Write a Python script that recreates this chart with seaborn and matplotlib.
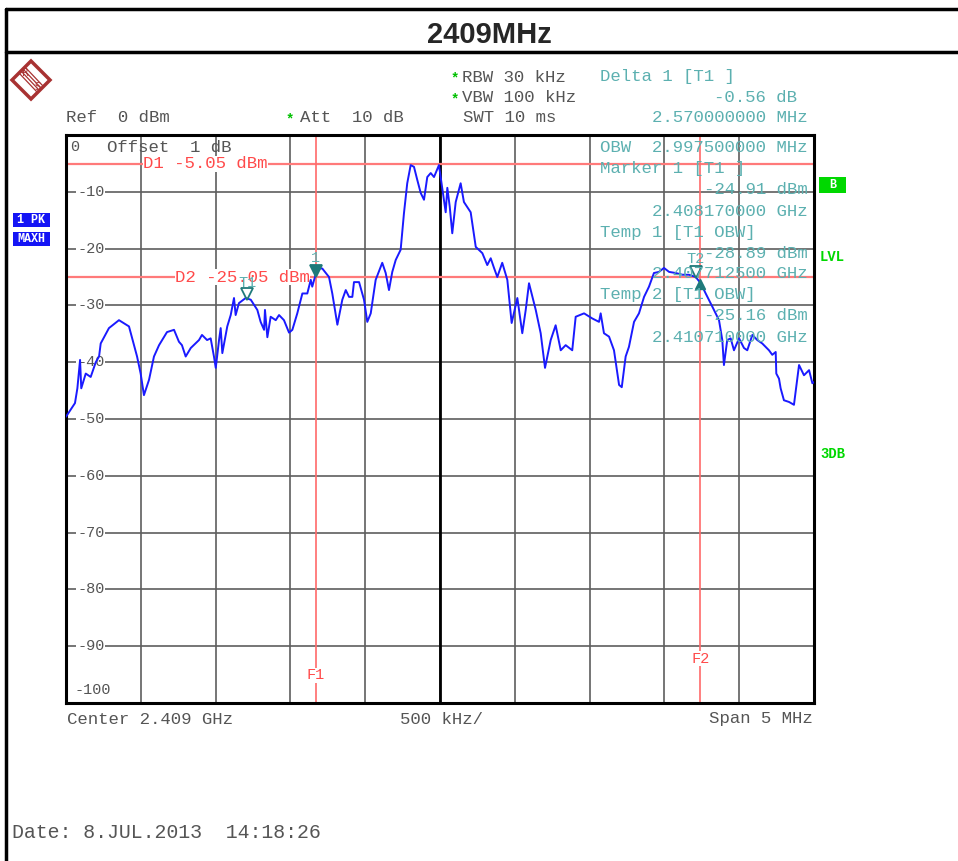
import numpy as np
import pandas as pd
import matplotlib
matplotlib.use("Agg")
import matplotlib.pyplot as plt
import matplotlib.transforms as mtransforms
from matplotlib.patches import Rectangle, Polygon
from matplotlib.lines import Line2D
import seaborn as sns

# Trace: offset from 2.409 GHz centre (MHz) and level (dBm)
freq_mhz = [-2.500, -2.440, -2.424, -2.406, -2.398, -2.368, -2.335, -2.301, -2.279, -2.268,
            -2.213, -2.146, -2.079, -2.025, -2.001, -1.979, -1.945, -1.912, -1.878, -1.825,
            -1.778, -1.745, -1.725, -1.700, -1.666, -1.611, -1.591, -1.557, -1.533, -1.511,
            -1.499, -1.477, -1.466, -1.455, -1.422, -1.399, -1.377, -1.366, -1.344, -1.299,
            -1.265, -1.221, -1.199, -1.176, -1.170, -1.154, -1.132, -1.098, -1.076, -1.043,
            -1.009, -0.987, -0.954, -0.920, -0.887, -0.864, -0.854, -0.820, -0.787, -0.742,
            -0.720, -0.686, -0.653, -0.630, -0.608, -0.586, -0.575, -0.541, -0.508, -0.486,
            -0.463, -0.430, -0.386, -0.363, -0.341, -0.319, -0.296, -0.263, -0.241, -0.219,
            -0.196, -0.174, -0.152, -0.129, -0.107, -0.085, -0.062, -0.040, -0.007,
            0.015, 0.038, 0.049, 0.065, 0.082, 0.105, 0.138, 0.160, 0.205, 0.239,
            0.283, 0.316, 0.339, 0.361, 0.383, 0.416, 0.450, 0.479, 0.517, 0.550,
            0.573, 0.595, 0.640, 0.673, 0.702, 0.740, 0.773, 0.807, 0.840, 0.884,
            0.907, 0.963, 1.018, 1.063, 1.074, 1.096, 1.130, 1.163, 1.197, 1.215,
            1.241, 1.263, 1.297, 1.330, 1.364, 1.397, 1.430, 1.464, 1.497, 1.531,
            1.576, 1.620, 1.664, 1.709, 1.743, 1.776, 1.820, 1.865, 1.887, 1.898,
            1.920, 1.943, 1.965, 1.999, 2.032, 2.054, 2.088, 2.121, 2.154, 2.199,
            2.221, 2.244, 2.248, 2.266, 2.277, 2.299, 2.333, 2.366, 2.400, 2.433,
            2.467, 2.489, 2.500]
level_dbm = [-49.6, -47.2, -44.6, -39.6, -44.6, -42.0, -42.6, -40.0, -39.0, -36.7,
             -34.0, -32.6, -33.7, -39.0, -42.0, -45.8, -43.1, -39.0, -37.0, -34.7,
             -34.3, -36.4, -37.0, -39.0, -37.5, -36.1, -35.2, -36.1, -35.8, -39.0,
             -41.0, -36.1, -34.0, -38.4, -33.7, -31.7, -28.7, -31.7, -29.6, -28.7,
             -29.0, -30.8, -32.9, -34.3, -30.8, -35.6, -32.0, -32.6, -31.7, -32.6,
             -34.8, -34.3, -31.4, -27.9, -27.9, -25.5, -26.7, -23.5, -23.5, -25.0,
             -27.9, -33.4, -29.0, -27.3, -28.5, -28.5, -25.9, -25.9, -29.0, -32.9,
             -31.4, -25.5, -22.5, -24.3, -27.3, -24.1, -22.0, -20.2, -13.8, -8.5,
             -5.3, -5.6, -7.9, -10.2, -11.4, -7.4, -6.7, -7.4, -5.3,
             -9.3, -13.6, -9.3, -12.6, -17.3, -11.8, -8.5, -11.8, -13.6, -19.7,
             -20.8, -22.9, -21.7, -23.4, -25.0, -22.5, -25.5, -33.1, -28.7, -34.9,
             -30.8, -26.1, -30.8, -34.9, -41.0, -36.1, -33.5, -37.9, -37.0, -37.9,
             -32.0, -31.4, -32.3, -32.9, -31.4, -34.9, -35.5, -37.9, -44.0, -44.4,
             -39.0, -37.3, -32.9, -31.4, -28.5, -26.7, -24.3, -24.1, -23.4, -24.1,
             -24.3, -24.6, -24.6, -25.0, -26.1, -27.9, -30.2, -32.6, -36.1, -40.5,
             -36.1, -35.8, -37.9, -35.8, -37.5, -37.9, -35.2, -36.1, -36.7, -37.9,
             -38.7, -38.2, -42.0, -42.9, -44.6, -46.7, -47.0, -47.5, -40.5, -42.3,
             -41.4, -43.7, -43.5]

# display lines, markers and grid labels
d1_level = -5.05
d2_level = -25.05
f1_mhz = -0.830
f2_mhz = 1.740
marker_names = ["1", "T1", "T2"]
marker_freq = [-0.830, -1.2875, 1.710]
marker_level = [-24.91, -28.89, -25.16]
marker_filled = [True, False, False]
delta_freq = 1.740
delta_level = -25.47
grid_levels = [-10, -20, -30, -40, -50, -60, -70, -80, -90]

header_left = [("Ref  0 dBm", 66, 118), ("Att  10 dB", 300, 118)]
header_mid = [("RBW 30 kHz", 77), ("VBW 100 kHz", 97), ("SWT 10 ms", 118)]
readout_left = [("Delta 1 [T1 ]", 77), ("Marker 1 [T1 ]", 169),
                ("Temp 1 [T1 OBW]", 232), ("Temp 2 [T1 OBW]", 295)]
readout_right = [("-0.56 dB", 97, 797), ("2.570000000 MHz", 118, 808),
                 ("OBW  2.997500000 MHz", 148, 808),
                 ("-24.91 dBm", 190, 808), ("2.408170000 GHz", 211, 808),
                 ("-28.89 dBm", 253, 808), ("2.407712500 GHz", 273, 808),
                 ("-25.16 dBm", 316, 808), ("2.410710000 GHz", 337, 808)]

df = pd.DataFrame({"freq_mhz": freq_mhz, "level_dbm": level_dbm})

sns.set_style("white")
plt.rcParams["font.family"] = ["Liberation Mono", "DejaVu Sans Mono"]

GRAY = "#555555"
TEAL = "#5cb0b0"
DTEAL = "#1f7a7a"
RED = "#ff4a4a"
GREEN = "#00d800"
BLUE = "#1a1aff"

W, H = 958, 861
fig = plt.figure(figsize=(W / 100, H / 100), dpi=100)
# pixel coords, origin top left
pix = mtransforms.Affine2D().scale(1 / W, -1 / H).translate(0, 1) + fig.transFigure

ax = fig.add_axes([66 / W, 1 - 703 / H, 748 / W, 568 / H])
ax.set_xlim(-2.5, 2.5)
ax.set_ylim(-100, 0)
ax.set_xticks(np.arange(-2.5, 2.51, 0.5))
ax.set_yticks(np.arange(-100, 1, 10))
ax.tick_params(length=0, labelbottom=False, labelleft=False)
ax.grid(True, color="#5e5e5e", lw=1.2, zorder=0)
ax.set_axisbelow(True)
ax.axvline(0, color="black", lw=2, zorder=1)
for sp in ax.spines.values():
    sp.set_color("black")
    sp.set_linewidth(2.2)

# grid level labels (under the trace)
for v in grid_levels:
    ax.text(0.015, v, f"{v}", transform=ax.get_yaxis_transform(), ha="left", va="center",
            fontsize=11, color=GRAY, zorder=1.2,
            bbox=dict(facecolor="white", edgecolor="none", pad=0.5))
ax.text(0.012, -97.7, "-100", transform=ax.get_yaxis_transform(), ha="left", va="center",
        fontsize=11, color=GRAY, zorder=1.2)

# display lines
for lv in [d1_level, d2_level]:
    ax.axhline(lv, color="#ff7a7a", lw=1.6, zorder=1.5)
for fq in [f1_mhz, f2_mhz]:
    ax.axvline(fq, color="#ff6a6a", lw=1.2, zorder=1.5)
ax.text(0.103, d1_level, f"D1 {d1_level:.2f} dBm", transform=ax.get_yaxis_transform(),
        ha="left", va="center", fontsize=12.5, color=RED, zorder=2,
        bbox=dict(facecolor="white", edgecolor="none", pad=0.2))
ax.text(0.146, d2_level, f"D2 {d2_level:.2f} dBm", transform=ax.get_yaxis_transform(),
        ha="left", va="center", fontsize=12.5, color=RED, zorder=2,
        bbox=dict(facecolor="white", edgecolor="none", pad=0.2))
ax.text(f1_mhz, 0.049, "F1", transform=ax.get_xaxis_transform(), ha="center", va="center",
        fontsize=11, color=RED, zorder=2, bbox=dict(facecolor="white", edgecolor="none", pad=0.3))
ax.text(f2_mhz, 0.078, "F2", transform=ax.get_xaxis_transform(), ha="center", va="center",
        fontsize=11, color=RED, zorder=2, bbox=dict(facecolor="white", edgecolor="none", pad=0.3))

# trace
sns.lineplot(data=df, x="freq_mhz", y="level_dbm", sort=False, estimator=None,
             color=BLUE, lw=1.4, ax=ax, zorder=3)
ax.set_xlabel("")
ax.set_ylabel("")

# markers
tri_off = mtransforms.offset_copy(ax.transData, fig=fig, y=4, units="points")
for name, fq, lv, filled in zip(marker_names, marker_freq, marker_level, marker_filled):
    ax.plot([fq], [lv], marker="v", ms=8, transform=tri_off, ls="none", zorder=4,
            mfc=DTEAL if filled else "none", mec=DTEAL, mew=1.3)
    lab_off = mtransforms.offset_copy(ax.transData, fig=fig, y=11.5 if name == "T1" else 13.5,
                                      units="points")
    ax.text(fq, lv, name, transform=lab_off, ha="center", va="center", fontsize=11,
            color=TEAL, zorder=4)
delta_off = mtransforms.offset_copy(ax.transData, fig=fig, y=-3, units="points")
ax.plot([delta_freq], [delta_level], marker="^", ms=7, transform=delta_off, ls="none",
        mfc=DTEAL, mec=DTEAL, zorder=4)

# ---- header / frame in pixel coordinates ----
for xs, ys in [([6, W], [9, 9]), ([6, W], [52, 52]), ([6, 6], [9, H])]:
    fig.add_artist(Line2D(xs, ys, transform=pix, color="black", lw=2.5))
fig.text(489, 35, "2409MHz", transform=pix, ha="center", va="center", fontsize=21,
         fontweight="bold", family="Liberation Sans")

# R&S logo
fig.add_artist(Polygon([(31, 61), (50, 80), (31, 99), (12, 80)], closed=True, transform=pix,
                       facecolor="white", edgecolor="#a83232", lw=2.5))
for k in [-3, -1, 1, 3]:
    fig.add_artist(Line2D([22 + k, 40 + k], [70 - k, 89 - k], transform=pix,
                          color="#a83232", lw=0.9))
fig.text(25, 73, "R", transform=pix, ha="center", va="center", fontsize=7,
         color="#a83232", family="DejaVu Sans")
fig.text(37, 87, "S", transform=pix, ha="center", va="center", fontsize=7,
         color="#a83232", family="DejaVu Sans")

for s, x, y in header_left:
    fig.text(x, y, s, transform=pix, ha="left", va="center", fontsize=12.5, color=GRAY)
fig.text(290, 119, "*", transform=pix, ha="center", va="center", fontsize=10,
         color="#00c000", fontweight="bold")
for s, y in header_mid:
    fig.text(462 if not s.startswith("SWT") else 463, y, s, transform=pix, ha="left",
             va="center", fontsize=12.5, color=GRAY)
for y in [78, 99]:
    fig.text(455, y, "*", transform=pix, ha="center", va="center", fontsize=10,
             color="#00c000", fontweight="bold")

fig.text(75, 147, "0", transform=pix, ha="center", va="center", fontsize=11, color=GRAY)
fig.text(107, 147, "Offset  1 dB", transform=pix, ha="left", va="center", fontsize=12.5,
         color=GRAY)

for s, y in readout_left:
    fig.text(600, y, s, transform=pix, ha="left", va="center", fontsize=12.5, color=TEAL)
for s, y, xr in readout_right:
    if s.startswith("OBW"):
        fig.text(600, y, s, transform=pix, ha="left", va="center", fontsize=12.5, color=TEAL)
    else:
        fig.text(xr, y, s, transform=pix, ha="right", va="center", fontsize=12.5, color=TEAL)

# side labels
for s, y in [("1 PK", 220), ("MAXH", 239)]:
    fig.add_artist(Rectangle((13, y - 7), 37, 14, transform=pix, facecolor="#1414f5",
                             edgecolor="none"))
    fig.text(31.5, y, s, transform=pix, ha="center", va="center", fontsize=8.5,
             color="white", fontweight="bold")
fig.add_artist(Rectangle((819, 177), 27, 16, transform=pix, facecolor=GREEN, edgecolor="none"))
fig.text(832.5, 185, "B", transform=pix, ha="center", va="center", fontsize=8.5,
         color="white", fontweight="bold")
fig.text(820, 257, "LVL", transform=pix, ha="left", va="center", fontsize=10,
         color=GREEN, fontweight="bold")
fig.text(820, 454, "3DB", transform=pix, ha="left", va="center", fontsize=10,
         color=GREEN, fontweight="bold")

# footer
fig.text(67, 719, "Center 2.409 GHz", transform=pix, ha="left", va="center", fontsize=12.5,
         color=GRAY)
fig.text(400, 719, "500 kHz/", transform=pix, ha="left", va="center", fontsize=12.5,
         color=GRAY)
fig.text(813, 719, "Span 5 MHz", transform=pix, ha="right", va="center", fontsize=12.5,
         color=GRAY)
fig.text(12, 832, "Date: 8.JUL.2013  14:18:26", transform=pix, ha="left", va="center",
         fontsize=14.3, color=GRAY)

fig.savefig("out.png", dpi=100, facecolor="white")
